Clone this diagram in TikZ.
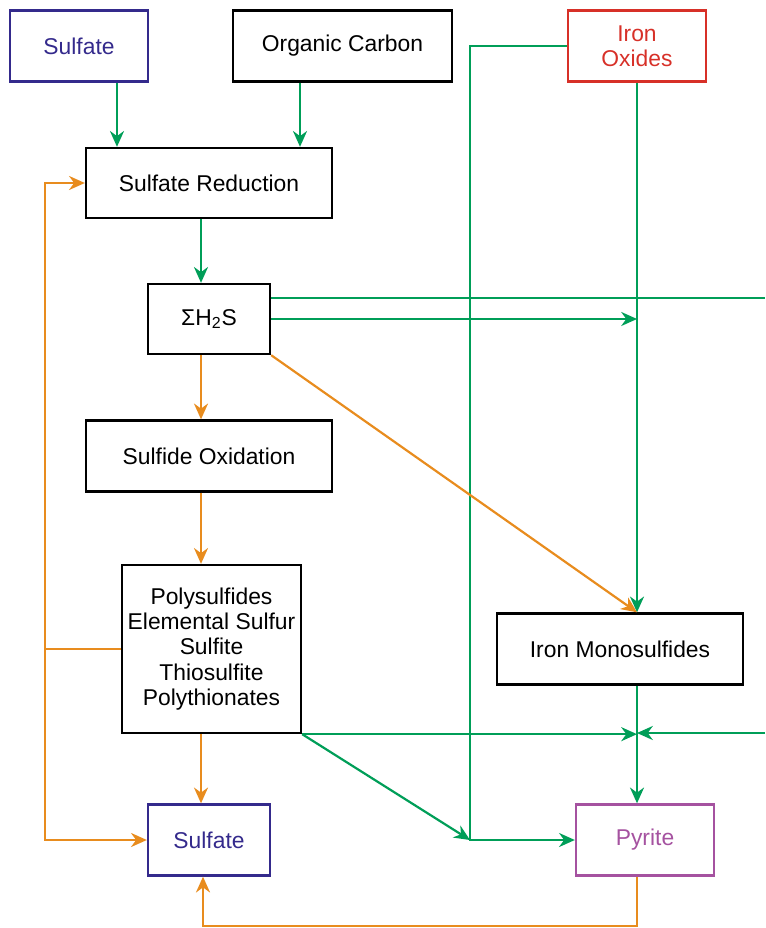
\documentclass[tikz,border=0pt]{standalone}
\usepackage{fontspec}
\setmainfont{Liberation Sans}
\usepackage{xcolor}
\usetikzlibrary{arrows.meta}
\definecolor{fcgreen}{RGB}{0,158,88}
\definecolor{fcorange}{RGB}{232,140,30}
\definecolor{fcblue}{RGB}{52,42,140}
\definecolor{fcred}{RGB}{215,48,40}
\definecolor{fcpink}{RGB}{165,82,160}
\tikzset{
  box/.style={draw, line width=1.35pt, inner sep=0pt, align=center,
    font=\fontsize{13pt}{14.4pt}\selectfont},
  gline/.style={draw=fcgreen, line width=1.25pt},
  oline/.style={draw=fcorange, line width=1.25pt},
  tip/.style={-{Stealth[length=9pt,width=8pt]}}
}
\begin{document}
\begin{tikzpicture}[x=0.02cm,y=-0.02cm]
\useasboundingbox (0,0) rectangle (765,928);

    % boxes
    \node[box, draw=fcblue, text=fcblue, minimum width=2.76cm, minimum height=1.42cm] (sulf1) at (79,46) {Sulfate};
    \node[box, minimum width=4.38cm, minimum height=1.42cm] (orgc) at (342.5,46) {Organic Carbon};
    \node[box, draw=fcred, text=fcred, minimum width=2.76cm, minimum height=1.42cm] (feox) at (637,46) {Iron\\Oxides};
    \node[box, minimum width=4.92cm, minimum height=1.4cm] (sred) at (209,183) {Sulfate Reduction};
    \node[box, minimum width=2.44cm, minimum height=1.4cm] (h2s) at (209,319) {ΣH\textsubscript{2}S};
    \node[box, minimum width=4.92cm, minimum height=1.42cm] (sox) at (209,456) {Sulfide Oxidation};
    \node[box, minimum width=3.58cm, minimum height=3.36cm] (poly) at (211.5,649)
      {Polysulfides\\Elemental Sulfur\\Sulfite\\Thiosulfite\\Polythionates};
    \node[box, minimum width=4.92cm, minimum height=1.42cm] (femono) at (620,649) {Iron Monosulfides};
    \node[box, draw=fcblue, text=fcblue, minimum width=2.44cm, minimum height=1.42cm] (sulf2) at (209,840) {Sulfate};
    \node[box, draw=fcpink, text=fcpink, minimum width=2.76cm, minimum height=1.42cm] (pyr) at (645,840) {Pyrite};

    % free ends and junctions
    \coordinate (rtop) at (765,298);
    \coordinate (rbot) at (765,733);
    \coordinate (lft) at (45,649);
    \coordinate (xa) at (470,840);
    \coordinate (bot) at (420,926);

    % green arrows
    \draw[gline, tip] ([xshift=0.76cm]sulf1.south) -- ([xshift=0.76cm]sulf1.south |- sred.north);
    \draw[gline, tip] ([xshift=-0.85cm]orgc.south) -- ([xshift=-0.85cm]orgc.south |- sred.north);
    \draw[gline, tip] ([xshift=-0.16cm]sred.south) -- ([xshift=-0.16cm]h2s.north);
    \draw[gline] (h2s.east |- rtop) -- (rtop);
    \draw[gline, tip] (h2s.east) -- (h2s.east -| feox.south);
    \draw[gline, tip] (feox.south) -- (feox.south |- femono.north);
    \draw[gline, tip] (feox.west) -| (xa) -- (pyr.west);
    \draw[gline, tip] (poly.south east) -- (xa);
    \draw[gline, tip] (poly.south east) -- (poly.south east -| feox.south);
    \draw[gline, tip] (rbot) -- (rbot -| feox.south);
    \draw[gline, tip] (femono.south -| feox.south) -- (pyr.north -| feox.south);

    % orange arrows
    \draw[oline, tip] ([xshift=-0.16cm]h2s.south) -- ([xshift=-0.16cm]sox.north);
    \draw[oline, tip] ([xshift=-0.16cm]sox.south) -- ([xshift=-0.16cm]sox.south |- poly.north);
    \draw[oline, tip] ([xshift=-0.21cm]poly.south) -- ([xshift=-0.21cm]poly.south |- sulf2.north);
    \draw[oline, tip] (h2s.south east) -- (femono.north -| feox.south);
    \draw[oline] (poly.west) -- (lft);
    \draw[oline, tip] (lft) |- (sred.west);
    \draw[oline, tip] (lft) |- (sulf2.west);
    \draw[oline, tip] (pyr.south -| feox.south) |- (bot) -| ([xshift=-0.12cm]sulf2.south);

\end{tikzpicture}
\end{document}
